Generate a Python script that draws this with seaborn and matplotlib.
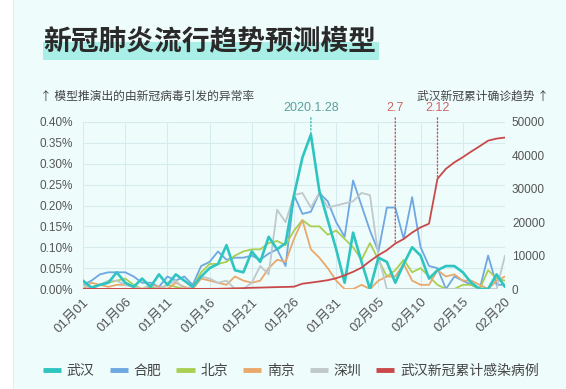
import numpy as np
import pandas as pd
import matplotlib
matplotlib.use("Agg")
import matplotlib.pyplot as plt
import matplotlib.dates as mdates
import seaborn as sns
from matplotlib.patches import Rectangle
from matplotlib.lines import Line2D

# ---------------- data ----------------
start_date = "2020-01-01"
n_days = 51

# anomaly rate (%) per city
wuhan = [0.02, 0.003, 0.01, 0.015, 0.04, 0.015, 0.005, 0.025, 0.005, 0.035,
         0.01, 0.035, 0.02, 0.005, 0.03, 0.05, 0.06, 0.105, 0.045, 0.04,
         0.09, 0.065, 0.125, 0.095, 0.11, 0.225, 0.315, 0.37, 0.235, 0.165,
         0.095, 0.015, 0.135, 0.065, 0.0, 0.075, 0.065, 0.015, 0.06, 0.1,
         0.08, 0.025, 0.045, 0.055, 0.055, 0.04, 0.015, 0.0, 0.0, 0.035, 0.005]
hefei = [0.01, 0.02, 0.035, 0.04, 0.04, 0.04, 0.03, 0.015, 0.015, 0.005,
         0.03, 0.02, 0.03, 0.01, 0.055, 0.065, 0.09, 0.07, 0.075, 0.075,
         0.08, 0.07, 0.085, 0.095, 0.055, 0.225, 0.18, 0.185, 0.23, 0.21,
         0.16, 0.125, 0.26, 0.2, 0.14, 0.09, 0.195, 0.195, 0.12, 0.22,
         0.1, 0.055, 0.05, 0.0, 0.03, 0.02, 0.01, 0.0, 0.08, 0.01, 0.01]
beijing = [0.01, 0.005, 0.01, 0.015, 0.02, 0.025, 0.01, 0.0, 0.005, 0.0,
           0.01, 0.005, 0.0, 0.005, 0.04, 0.06, 0.06, 0.065, 0.08, 0.09,
           0.095, 0.095, 0.11, 0.115, 0.105, 0.14, 0.165, 0.15, 0.15, 0.13,
           0.14, 0.12, 0.1, 0.07, 0.11, 0.07, 0.03, 0.045, 0.07, 0.04,
           0.05, 0.03, 0.01, 0.0, 0.0, 0.01, 0.01, 0.0, 0.045, 0.025, 0.02]
nanjing = [0.0, 0.015, 0.01, 0.005, 0.01, 0.01, 0.005, 0.0, 0.01, 0.005,
           0.0, 0.015, 0.005, 0.0, 0.025, 0.02, 0.015, 0.01, 0.03, 0.02,
           0.015, 0.02, 0.05, 0.07, 0.065, 0.12, 0.165, 0.095, 0.075, 0.05,
           0.02, 0.0, 0.0, 0.01, 0.0, 0.02, 0.03, 0.03, 0.06, 0.02,
           0.01, 0.01, 0.045, 0.03, 0.035, 0.02, 0.02, 0.01, 0.0, 0.02, 0.03]
shenzhen = [0.01, 0.0, 0.01, 0.02, 0.02, 0.01, 0.005, 0.0, 0.01, 0.0,
            0.01, 0.02, 0.0, 0.005, 0.03, 0.025, 0.015, 0.02, 0.0, 0.0,
            0.015, 0.055, 0.035, 0.19, 0.16, 0.225, 0.23, 0.195, 0.23, 0.195,
            0.2, 0.205, 0.21, 0.23, 0.225, 0.08, 0.0, 0.0, 0.0, 0.0,
            0.0, 0.0, 0.0, 0.0, 0.0, 0.0, 0.0, 0.0, 0.0, 0.0, 0.08]
# Wuhan cumulative confirmed cases
wuhan_cum = [27, 27, 27, 27, 27, 27, 27, 27, 27, 41,
             41, 41, 41, 41, 41, 41, 62, 121, 198, 258,
             363, 425, 495, 572, 618, 698, 1590, 1905, 2261, 2639,
             3215, 4109, 5142, 6384, 8351, 10117, 11618, 13603, 14982, 16902,
             18454, 19558, 32994, 35991, 37914, 39462, 41152, 42752, 44412, 45027, 45346]

city_names = ["武汉", "合肥", "北京", "南京", "深圳"]
cum_name = "武汉新冠累计感染病例"
city_colors = ["#2ec5c1", "#6ea7e1", "#a9cf52", "#e9a86c", "#bfc8ca"]
cum_color = "#c9494b"

left_ticks = [0.0, 0.05, 0.10, 0.15, 0.20, 0.25, 0.30, 0.35, 0.40]
right_ticks = [0, 10000, 20000, 30000, 40000, 50000]
tick_step = 5

annot_dates = ["2020-01-28", "2020-02-07", "2020-02-12"]
annot_labels = ["2020.1.28", "2.7", "2.12"]

title = "新冠肺炎流行趋势预测模型"
left_sub = "↑ 模型推演出的由新冠病毒引发的异常率"
right_sub = "武汉新冠累计确诊趋势 ↑"

# ---------------- style ----------------
sns.set_theme(style="white")
CJK = ["Noto Sans CJK SC", "DejaVu Sans"]
LAT = ["Liberation Sans", "Noto Sans CJK SC", "DejaVu Sans"]
plt.rcParams["font.family"] = LAT
plt.rcParams["axes.unicode_minus"] = False

bg = "#effcfc"
W, H = 566, 389
fig = plt.figure(figsize=(W / 100, H / 100), dpi=100, facecolor=bg)

# white strip at left
fig.patches.append(Rectangle((0, 0), 13 / W, 1, transform=fig.transFigure,
                             facecolor="white", edgecolor="none", zorder=0))
fig.patches.append(Rectangle((13 / W, 0), 1.2 / W, 1, transform=fig.transFigure,
                             facecolor="#d9f1f1", edgecolor="none", zorder=0))

ax = fig.add_axes([83 / W, 1 - 289 / H, 422 / W, 167 / H])
ax.set_facecolor("none")

dates = pd.date_range(start_date, periods=n_days, freq="D")
series = [wuhan, hefei, beijing, nanjing, shenzhen]
df = pd.DataFrame({
    "date": np.tile(dates, len(city_names)),
    "city": np.repeat(city_names, n_days),
    "rate": np.concatenate([np.asarray(s, dtype=float) for s in series]),
})
palette = dict(zip(city_names, city_colors))

# draw others first, Wuhan on top
draw_order = city_names[1:] + city_names[:1]
for c in draw_order:
    sub = df[df["city"] == c]
    sns.lineplot(data=sub, x="date", y="rate", color=palette[c], ax=ax,
                 linewidth=1.9 if c == "武汉" else 1.3, legend=False,
                 zorder=4 if c == "武汉" else 3)

ax.set_xlim(dates[0], dates[-1])
ax.set_ylim(left_ticks[0], left_ticks[-1])
ax.set_yticks(left_ticks)
ax.set_yticklabels([f"{v:.2f}%" for v in left_ticks])
xt = dates[::tick_step]
ax.set_xticks(xt)
ax.set_xticklabels([d.strftime("%m月%d") for d in xt], rotation=45,
                   ha="right", rotation_mode="anchor")
ax.set_xlabel("")
ax.set_ylabel("")
ax.grid(True, color="#d5ebee", linewidth=0.8)
for s in ax.spines.values():
    s.set_visible(False)
ax.tick_params(axis="both", length=0, labelcolor="#555555")
ax.tick_params(axis="y", pad=7, labelsize=8.5)
ax.tick_params(axis="x", pad=5, labelsize=9.5)

ax2 = ax.twinx()
sns.lineplot(x=dates, y=wuhan_cum, color=cum_color, linewidth=1.3, ax=ax2,
             legend=False, zorder=5)
ax2.set_ylim(right_ticks[0], right_ticks[-1])
ax2.set_yticks(right_ticks)
ax2.set_yticklabels([str(v) for v in right_ticks])
ax2.set_ylabel("")
ax2.grid(False)
for s in ax2.spines.values():
    s.set_visible(False)
ax2.tick_params(axis="y", length=0, labelsize=8.5, labelcolor="#555555", pad=5)

# annotations
for d, lab in zip(annot_dates, annot_labels):
    idx = dates.get_loc(pd.Timestamp(d))
    xnum = mdates.date2num(dates[idx])
    if lab == annot_labels[0]:
        target, val, lc, tc = ax, wuhan[idx], "#3bb8b3", "#5c9f9f"
    else:
        target, val, lc, tc = ax2, wuhan_cum[idx], "#c95a5c", "#d06466"
    target.annotate("", xy=(xnum, val), xycoords="data",
                    xytext=(xnum, 1.025), textcoords=("data", "axes fraction"),
                    arrowprops=dict(arrowstyle="-", linestyle=(0, (1, 1.6)),
                                    color=lc, lw=1.0, shrinkA=0, shrinkB=0),
                    annotation_clip=False)
    target.text(xnum, 1.085, lab, transform=target.get_xaxis_transform(),
                ha="center", va="center", fontsize=9, color=tc)

# title with highlight
fig.patches.append(Rectangle((43 / W, 1 - 60 / H), 336 / W, 18 / H,
                             transform=fig.transFigure, facecolor="#aaefe7",
                             edgecolor="none", zorder=1))
fig.text(43 / W, 1 - 41 / H, title, fontsize=20, fontweight="black",
         color="#2a2a2a", ha="left", va="center", family=CJK, zorder=2)

fig.text(40 / W, 1 - 96 / H, left_sub, fontsize=8.5, color="#444444",
         ha="left", va="center", family=CJK)
fig.text(549 / W, 1 - 96 / H, right_sub, fontsize=8.5, color="#444444",
         ha="right", va="center", family=CJK)

# legend
handles = [Line2D([0], [0], color=c, lw=3.5, solid_capstyle="butt")
           for c in city_colors]
handles.append(Line2D([0], [0], color=cum_color, lw=3.5, solid_capstyle="butt"))
labels = city_names + [cum_name]
leg = fig.legend(handles, labels, loc="center", ncol=6,
                 bbox_to_anchor=(291 / W, 1 - 371 / H), frameon=False,
                 handlelength=1.3, handletextpad=0.4,
                 columnspacing=1.1, prop={"family": CJK, "size": 10})
for t in leg.get_texts():
    t.set_color("#444444")

fig.savefig("out.png", dpi=100, facecolor=bg)
